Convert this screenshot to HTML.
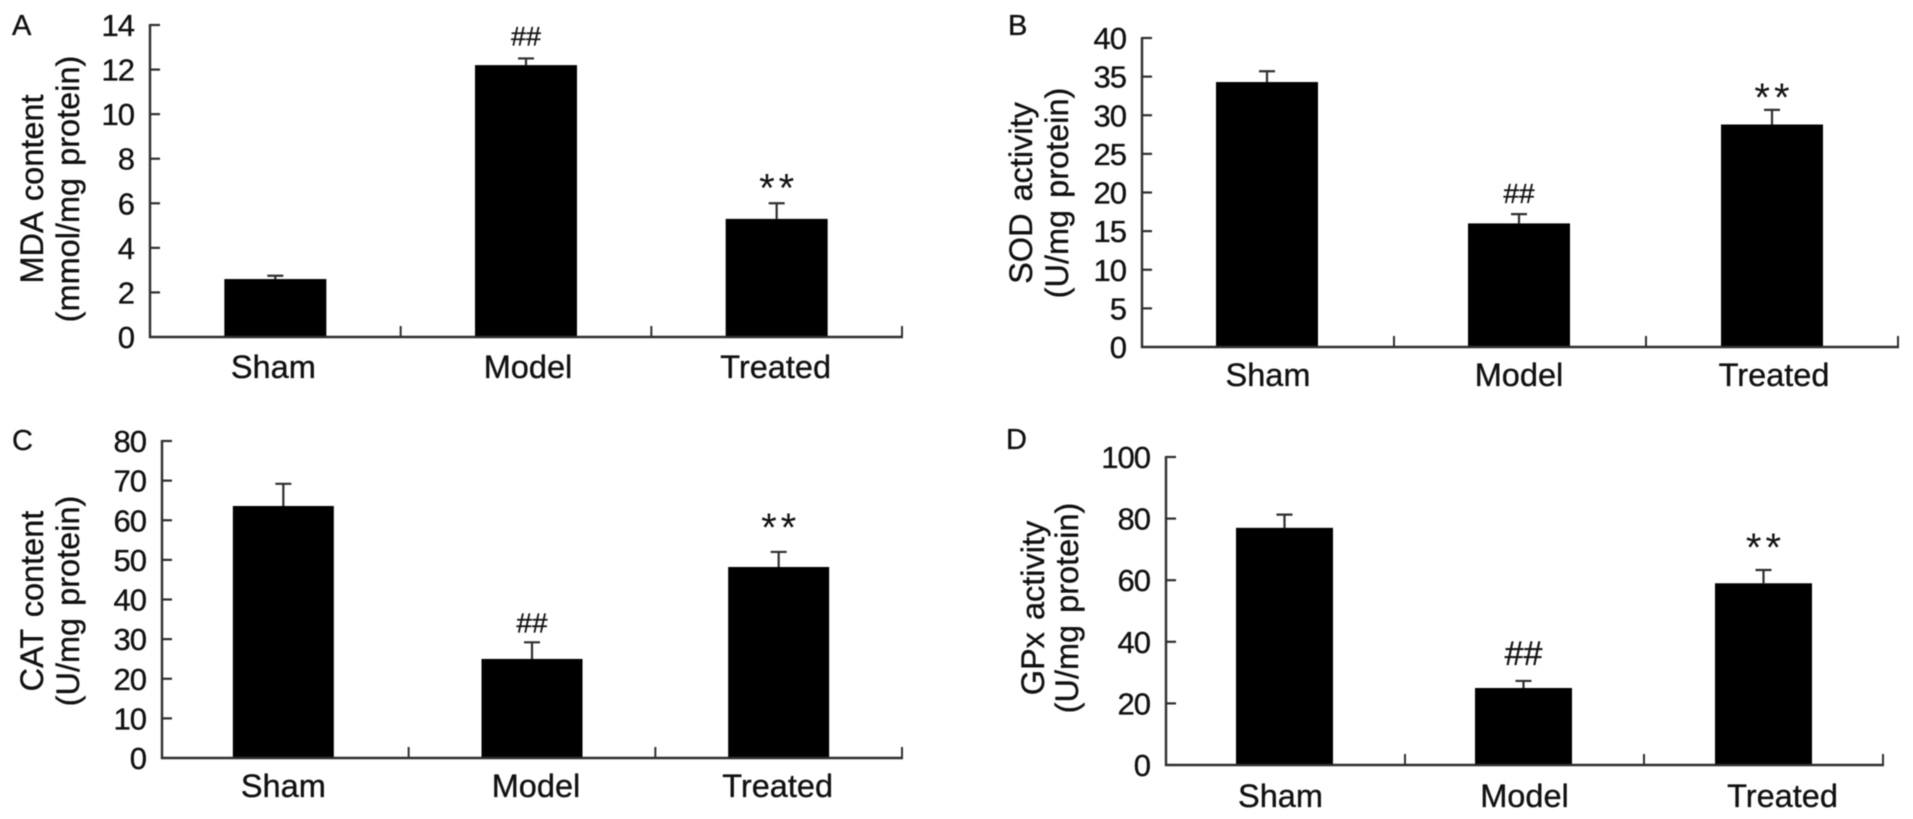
<!DOCTYPE html>
<html lang="en">
<head>
<meta charset="utf-8">
<title>Oxidative stress markers</title>
<style>
html,body{margin:0;padding:0;background:#fff;width:1913px;height:819px;overflow:hidden}
svg{display:block;filter:blur(0.55px)}
text{font-family:"Liberation Sans",sans-serif;fill:#111;stroke:#111;stroke-width:0.35px}
</style>
</head>
<body>
<svg id="figure" xmlns="http://www.w3.org/2000/svg" width="1913" height="819" viewBox="0 0 1913 819"></svg>
<script>
const categories = ['Sham', 'Model', 'Treated'];
const significance = ['', '##', '**'];

const mdaTickLabels = [0, 2, 4, 6, 8, 10, 12, 14];
const mdaValues = [2.6, 12.2, 5.3];
const mdaErrorTops = [2.75, 12.5, 6.0];

const sodTickLabels = [0, 5, 10, 15, 20, 25, 30, 35, 40];
const sodValues = [34.3, 16, 28.8];
const sodErrorTops = [35.7, 17.2, 30.7];

const catTickLabels = [0, 10, 20, 30, 40, 50, 60, 70, 80];
const catValues = [63.6, 25, 48.2];
const catErrorTops = [69.2, 29.2, 52];

const gpxTickLabels = [0, 20, 40, 60, 80, 100];
const gpxValues = [77, 25, 59];
const gpxErrorTops = [81.3, 27.3, 63.3];

const panels = [
  {id:'a', letter:'A', letterX:12, letterY:35, ticks:mdaTickLabels, values:mdaValues, errs:mdaErrorTops,
   x0:150, x1:902, yTop:25, yBase:337, barW:102, barDx:[0,0,0], labelY:378, labelDx:[-2,2,-1],
   hashSize:27, hashGap:13, starGap:16,
   title:['MDA content','(mmol/mg protein)'], titleX:[43,79], titleY:189},
  {id:'b', letter:'B', letterX:1008, letterY:35, ticks:sodTickLabels, values:sodValues, errs:sodErrorTops,
   x0:1142, x1:1898, yTop:38, yBase:347, barW:102, barDx:[-1,-1,0], labelY:386, labelDx:[0,-1,2],
   hashSize:28, hashGap:11, starGap:13,
   title:['SOD activity','(U/mg protein)'], titleX:[1032,1068], titleY:193},
  {id:'c', letter:'C', letterX:12, letterY:450, ticks:catTickLabels, values:catValues, errs:catErrorTops,
   x0:162, x1:902, yTop:441, yBase:758, barW:101, barDx:[-2,0,0], labelY:797, labelDx:[-2,4,-1],
   hashSize:28, hashGap:10, starGap:25,
   title:['CAT content','(U/mg protein)'], titleX:[43,79], titleY:601},
  {id:'d', letter:'D', letterX:1006, letterY:449, ticks:gpxTickLabels, values:gpxValues, errs:gpxErrorTops,
   x0:1166, x1:1883, yTop:457, yBase:765, barW:97, barDx:[-1,-1,0], labelY:807, labelDx:[-5,0,19],
   hashSize:34, hashGap:16, starGap:23,
   title:['GPx activity','(U/mg protein)'], titleX:[1044,1078], titleY:608}
];

const NS = 'http://www.w3.org/2000/svg';
const root = document.getElementById('figure');
function el(parent, tag, attrs, txt) {
  const n = document.createElementNS(NS, tag);
  for (const k in attrs) n.setAttribute(k, attrs[k]);
  if (txt !== undefined) n.textContent = txt;
  parent.appendChild(n);
  return n;
}
const AXIS = '#2e2e2e';
const STAR_SIZE = 40;
const STAR_DROP = 14;

panels.forEach(function (p) {
  const maxTick = p.ticks[p.ticks.length - 1];
  const yScale = function (v) { return p.yBase - (v / maxTick) * (p.yBase - p.yTop); };
  const step = (p.x1 - p.x0) / categories.length;
  const xCenter = function (i) { return p.x0 + step * (i + 0.5); };

  const g = el(root, 'g', {});
  
  

  const letter = el(g, 'text', {x:p.letterX, y:p.letterY, 'font-size':29}, p.letter);
  
  

  p.values.forEach(function (v, i) {
    const cx = xCenter(i) + p.barDx[i];
    const err = el(g, 'path', {d:'M' + cx + ' ' + yScale(v) + 'V' + yScale(p.errs[i]) + 'M' + (cx - 8) + ' ' + yScale(p.errs[i]) + 'H' + (cx + 8), stroke:AXIS, 'stroke-width':2.2, fill:'none'});
    
    

    const bar = el(g, 'rect', {x:cx - p.barW / 2, y:yScale(v), width:p.barW, height:p.yBase - yScale(v), fill:'#000'});
    
    

    const label = el(g, 'text', {x:xCenter(i) + p.labelDx[i], y:p.labelY, 'font-size':32.5, 'text-anchor':'middle'}, categories[i]);
    
    

    if (significance[i] === '##') {
      const s = el(g, 'text', {x:cx, y:yScale(p.errs[i]) - p.hashGap, 'font-size':p.hashSize, 'text-anchor':'middle'}, '##');
      
      
    } else if (significance[i] === '**') {
      const s = el(g, 'text', {x:cx + 2, y:yScale(p.errs[i]) - p.starGap + STAR_DROP, 'font-size':STAR_SIZE, 'text-anchor':'middle', 'letter-spacing':'4px', style:'stroke-width:0'}, '**');
      
      
    }
  });

  const yAxis = el(g, 'line', {x1:p.x0, x2:p.x0, y1:p.yTop - 1, y2:p.yBase + 1, stroke:AXIS, 'stroke-width':2.4});
  
  

  const xAxis = el(g, 'line', {x1:p.x0 - 1, x2:p.x1 + 1, y1:p.yBase, y2:p.yBase, stroke:AXIS, 'stroke-width':2.4});
  
  

  p.ticks.forEach(function (t) {
    const y = yScale(t);
    if (t !== 0) {
      const tick = el(g, 'line', {x1:p.x0, x2:p.x0 + 10, y1:y, y2:y, stroke:AXIS, 'stroke-width':2.2});
      
      
    }
    const lab = el(g, 'text', {x:p.x0 - 16, y:y + 11, 'font-size':31, 'text-anchor':'end', 'letter-spacing':'-1px'}, String(t));
    
    
  });

  categories.forEach(function (c, i) {
    const x = p.x0 + step * (i + 1);
    const tick = el(g, 'line', {x1:x, x2:x, y1:p.yBase, y2:p.yBase - 11, stroke:AXIS, 'stroke-width':2});
    
    
  });

  p.title.forEach(function (line, i) {
    const t = el(g, 'text', {x:0, y:0, 'font-size':32.5, 'text-anchor':'middle', 'word-spacing':'3px',
      transform:'translate(' + p.titleX[i] + ' ' + p.titleY + ') rotate(-90)'}, line);
    
    
  });
});
</script>
</body>
</html>
